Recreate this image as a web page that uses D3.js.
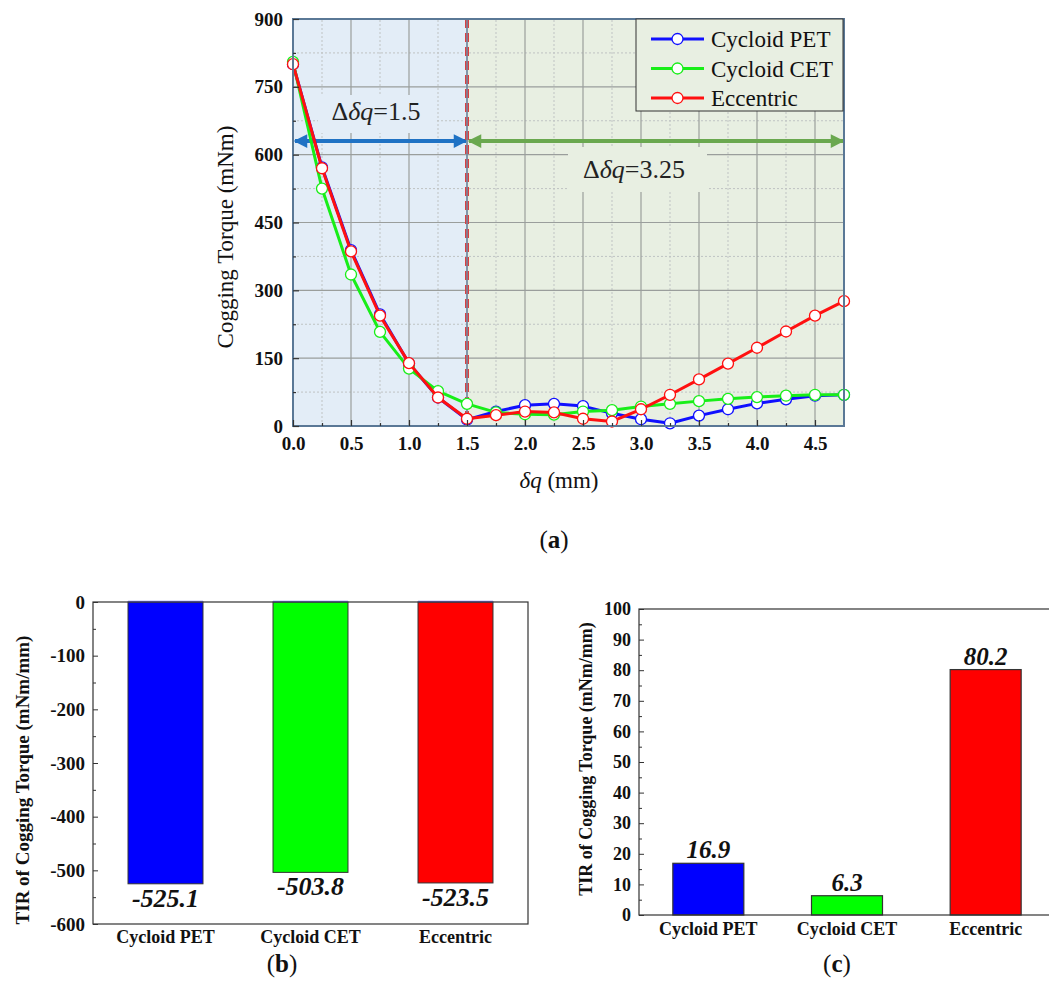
<!DOCTYPE html>
<html><head><meta charset="utf-8">
<script src="https://cdn.jsdelivr.net/npm/d3@7"></script>
<style>body{margin:0;background:#fff} svg{display:block}</style>
</head><body>
<svg id="c" width="1049" height="1005"></svg>
<script>
// ---------- data ----------
const dq = [0,0.25,0.5,0.75,1.0,1.25,1.5,1.75,2.0,2.25,2.5,2.75,3.0,3.25,3.5,3.75,4.0,4.25,4.5,4.75];
const cycloidPET = [800,572,389,247,138,63,14,32,46,49,44,28,15,6,23,37,50,59,67,69];
const cycloidCET = [805,525,335,208,127,77,49,30,26,25,32,35,43,49,55,60,64,67,69,69];
const eccentric  = [800,570,386,244,139,63,16,24,32,30,16,10,37,69,103,138,173,209,244,276];
const seriesNames = ["Cycloid PET","Cycloid CET","Eccentric"];
const seriesColors = ["#1010ff","#18ee18","#ff1010"];
const xTicksA = [0,0.5,1.0,1.5,2.0,2.5,3.0,3.5,4.0,4.5];
const yTicksA = [0,150,300,450,600,750,900];
const splitAt = 1.5;
const arrowLevel = 630;
const leftNote = "1.5", rightNote = "3.25";

const categories = ["Cycloid PET","Cycloid CET","Eccentric"];
const tirNegative = [-525.1,-503.8,-523.5];
const tirPositive = [16.9,6.3,80.2];
const barColors = ["#0000ff","#00ff00","#ff0000"];
const yTicksB = [0,-100,-200,-300,-400,-500,-600];
const yTicksC = [0,10,20,30,40,50,60,70,80,90,100];

// ---------- setup ----------
const svg = d3.select("#c");
const F = "'Liberation Serif','Times New Roman','DejaVu Serif',serif";
const defs = svg.append("defs");
function arrowMarker(id,color){
  const m = defs.append("marker").attr("id",id).attr("viewBox","0 0 10 10")
    .attr("refX",9).attr("refY",5).attr("markerWidth",4).attr("markerHeight",3.4)
    .attr("markerUnits","strokeWidth").attr("orient","auto-start-reverse");
  m.append("path").attr("d","M0,0 L10,5 L0,10 z").attr("fill",color);
}
arrowMarker("arB","#1f72c4");
arrowMarker("arG","#6aa84f");
const plain = v => String(v).replace("\u2212","-");

// ---------- chart (a) ----------
const x = d3.scaleLinear().domain([0,4.75]).range([293,844]);
const y = d3.scaleLinear().domain([0,900]).range([426,19]);
const gA = svg.append("g");
const blueBg = "#e3edf7", greenBg = "#e8efe2";
gA.append("rect").attr("x",x(0)).attr("y",y(900)).attr("width",x(splitAt)-x(0)).attr("height",y(0)-y(900)).attr("fill",blueBg);
gA.append("rect").attr("x",x(splitAt)).attr("y",y(900)).attr("width",x(4.75)-x(splitAt)).attr("height",y(0)-y(900)).attr("fill",greenBg);

const minorX = d3.range(0.25,4.75,0.5), majorX = d3.range(0.5,4.75,0.5);
const minorY = d3.range(75,900,150), majorY = d3.range(150,900,150);
gA.selectAll(".mnx").data(minorX).join("line").attr("x1",d=>x(d)).attr("x2",d=>x(d)).attr("y1",y(0)).attr("y2",y(900))
  .attr("stroke","#bfc3c3").attr("stroke-width",1).attr("stroke-dasharray","2,2");
gA.selectAll(".mny").data(minorY).join("line").attr("x1",x(0)).attr("x2",x(4.75)).attr("y1",d=>y(d)).attr("y2",d=>y(d))
  .attr("stroke","#bfc3c3").attr("stroke-width",1).attr("stroke-dasharray","2,2");
gA.selectAll(".mjx").data(majorX).join("line").attr("x1",d=>x(d)).attr("x2",d=>x(d)).attr("y1",y(0)).attr("y2",y(900))
  .attr("stroke","#9a9e9c").attr("stroke-width",1.2);
gA.selectAll(".mjy").data(majorY).join("line").attr("x1",x(0)).attr("x2",x(4.75)).attr("y1",d=>y(d)).attr("y2",d=>y(d))
  .attr("stroke","#9a9e9c").attr("stroke-width",1.2);

// annotation boxes and texts
gA.append("rect").attr("x",318).attr("y",95).attr("width",118).attr("height",38).attr("fill",blueBg);
gA.append("rect").attr("x",568).attr("y",147).attr("width",139).attr("height",45).attr("fill",greenBg);
function note(xp,yp,val){
  const t = gA.append("text").attr("x",xp).attr("y",yp).attr("font-family",F).attr("font-size",26).attr("fill","#222").attr("text-anchor","middle");
  t.append("tspan").text("Δ");
  t.append("tspan").attr("font-style","italic").text("δq");
  t.append("tspan").text("="+val);
}
note(376,120,leftNote);
note(634,178,rightNote);

// arrows
gA.append("line").attr("x1",x(0)+2).attr("x2",x(splitAt)-1).attr("y1",y(arrowLevel)).attr("y2",y(arrowLevel))
  .attr("stroke","#1f72c4").attr("stroke-width",4).attr("marker-start","url(#arB)").attr("marker-end","url(#arB)");
gA.append("line").attr("x1",x(splitAt)+2).attr("x2",x(4.75)-1).attr("y1",y(arrowLevel)).attr("y2",y(arrowLevel))
  .attr("stroke","#6aa84f").attr("stroke-width",4).attr("marker-start","url(#arG)").attr("marker-end","url(#arG)");

// split line
gA.append("line").attr("x1",x(splitAt)).attr("x2",x(splitAt)).attr("y1",y(900)).attr("y2",y(0))
  .attr("stroke","#d94040").attr("stroke-width",4).attr("stroke-dasharray","9,5");
gA.append("line").attr("x1",x(splitAt)).attr("x2",x(splitAt)).attr("y1",y(900)).attr("y2",y(0))
  .attr("stroke","#6f8aa4").attr("stroke-width",1.5);

// series
const seriesData = [cycloidPET, cycloidCET, eccentric];
const line = d3.line().x(d=>x(d[0])).y(d=>y(d[1]));
seriesData.forEach((vals,i)=>{
  const pts = dq.map((d,j)=>[d,vals[j]]);
  gA.append("path").attr("d",line(pts)).attr("fill","none").attr("stroke",seriesColors[i]).attr("stroke-width",3).attr("stroke-linejoin","round");
  gA.selectAll(".pt"+i).data(pts).join("circle").attr("cx",d=>x(d[0])).attr("cy",d=>y(d[1])).attr("r",5.5)
    .attr("fill","#fff").attr("stroke",seriesColors[i]).attr("stroke-width",1.3);
});

// frame
gA.append("rect").attr("x",x(0)).attr("y",y(900)).attr("width",x(4.75)-x(0)).attr("height",y(0)-y(900))
  .attr("fill","none").attr("stroke","#5a7896").attr("stroke-width",2);

// axes
const axX = gA.append("g").attr("transform",`translate(0,${y(0)})`)
  .call(d3.axisBottom(x).tickValues(xTicksA).tickFormat(d3.format(".1f")).tickSize(-6).tickPadding(11));
const axXm = gA.append("g").attr("transform",`translate(0,${y(0)})`)
  .call(d3.axisBottom(x).tickValues(minorX).tickFormat("").tickSize(-3));
const axY = gA.append("g").attr("transform",`translate(${x(0)},0)`)
  .call(d3.axisLeft(y).tickValues(yTicksA).tickSize(-6).tickPadding(10));
const axYm = gA.append("g").attr("transform",`translate(${x(0)},0)`)
  .call(d3.axisLeft(y).tickValues(minorY).tickFormat("").tickSize(-3));
[axX,axXm,axY,axYm].forEach(a=>{
  a.attr("font-family",F);
  a.select(".domain").remove();
  a.selectAll(".tick line").attr("stroke","#333").attr("stroke-width",1.2);
  a.selectAll("text").attr("font-family",F).attr("font-size",19).attr("font-weight","bold").attr("fill","#111");
});

// legend
const lg = gA.append("g");
lg.append("rect").attr("x",636).attr("y",19).attr("width",207).attr("height",92).attr("fill",greenBg).attr("stroke","#333").attr("stroke-width",1);
seriesNames.forEach((n,i)=>{
  const yy = 39 + i*29.5;
  lg.append("line").attr("x1",651).attr("x2",704).attr("y1",yy).attr("y2",yy).attr("stroke",seriesColors[i]).attr("stroke-width",3);
  lg.append("circle").attr("cx",677.5).attr("cy",yy).attr("r",5.5).attr("fill","#fff").attr("stroke",seriesColors[i]).attr("stroke-width",1.3);
  lg.append("text").attr("x",711).attr("y",yy+8).attr("font-family",F).attr("font-size",23).attr("fill","#111").text(n);
});

// axis titles
const xt = gA.append("text").attr("x",559).attr("y",488).attr("font-family",F).attr("font-size",23).attr("text-anchor","middle").attr("fill","#111");
xt.append("tspan").attr("font-style","italic").text("δq");
xt.append("tspan").text(" (mm)");
gA.append("text").attr("transform",`translate(233,237) rotate(-90)`).attr("text-anchor","middle")
  .attr("font-family",F).attr("font-size",23).attr("fill","#111").text("Cogging Torque (mNm)");

// ---------- chart (b) ----------
const xb = d3.scaleBand().domain(categories).range([93,528]).paddingInner(0.483).paddingOuter(0.2415);
const yb = d3.scaleLinear().domain([-600,0]).range([924,602]);
const gB = svg.append("g");
categories.forEach((c,i)=>{
  gB.append("rect").attr("x",xb(c)).attr("y",yb(0)).attr("width",xb.bandwidth()).attr("height",yb(tirNegative[i])-yb(0))
    .attr("fill",barColors[i]).attr("stroke","#333").attr("stroke-width",1);
  gB.append("line").attr("x1",xb(c)).attr("x2",xb(c)+xb.bandwidth()).attr("y1",yb(0)-0.5).attr("y2",yb(0)-0.5)
    .attr("stroke","#7b7bff").attr("stroke-width",1.5);
  gB.append("text").attr("x",xb(c)+xb.bandwidth()/2).attr("y",yb(tirNegative[i])+23).attr("text-anchor","middle")
    .attr("font-family",F).attr("font-size",26).attr("font-weight","bold").attr("font-style","italic").attr("fill","#111")
    .text(tirNegative[i].toFixed(1));
});
gB.append("rect").attr("x",93).attr("y",602).attr("width",435).attr("height",322).attr("fill","none").attr("stroke","#333").attr("stroke-width",1.2);
const bY = gB.append("g").attr("transform","translate(93,0)").call(d3.axisLeft(yb).tickValues(yTicksB).tickFormat(d=>String(d)).tickSize(-5).tickPadding(8));
const bYm = gB.append("g").attr("transform","translate(93,0)").call(d3.axisLeft(yb).tickValues(d3.range(-550,0,100)).tickFormat("").tickSize(-3));
const bX = gB.append("g").attr("transform","translate(0,924)").call(d3.axisBottom(xb).tickSize(0).tickPadding(6));
[bY,bYm,bX].forEach(a=>{
  a.attr("font-family",F);
  a.select(".domain").remove();
  a.selectAll(".tick line").attr("stroke","#333");
  a.selectAll("text").attr("font-family",F).attr("font-size",19).attr("font-weight","bold").attr("fill","#111");
});
bX.selectAll("text").attr("font-size",18).attr("dy","0").attr("y",19);
gB.append("text").attr("transform","translate(29,780) rotate(-90)").attr("text-anchor","middle")
  .attr("font-family",F).attr("font-size",19).attr("font-weight","bold").attr("fill","#111").text("TIR of Cogging Torque (mNm/mm)");

// ---------- chart (c) ----------
const xc = d3.scaleBand().domain(categories).range([639,1055]).paddingInner(0.488).paddingOuter(0.244);
const yc = d3.scaleLinear().domain([0,100]).range([915,609]);
const gC = svg.append("g");
categories.forEach((c,i)=>{
  gC.append("rect").attr("x",xc(c)).attr("y",yc(tirPositive[i])).attr("width",xc.bandwidth()).attr("height",yc(0)-yc(tirPositive[i]))
    .attr("fill",barColors[i]).attr("stroke","#333").attr("stroke-width",1.2);
  gC.append("text").attr("x",xc(c)+xc.bandwidth()/2).attr("y",yc(tirPositive[i])-5).attr("text-anchor","middle")
    .attr("font-family",F).attr("font-size",25).attr("font-weight","bold").attr("font-style","italic").attr("fill","#111")
    .text(tirPositive[i].toFixed(1));
});
gC.append("rect").attr("x",639).attr("y",609).attr("width",416).attr("height",306).attr("fill","none").attr("stroke","#333").attr("stroke-width",1.2);
const cY = gC.append("g").attr("transform","translate(639,0)").call(d3.axisLeft(yc).tickValues(yTicksC).tickSize(-5).tickPadding(8));
const cYm = gC.append("g").attr("transform","translate(639,0)").call(d3.axisLeft(yc).tickValues(d3.range(5,100,10)).tickFormat("").tickSize(-3));
const cX = gC.append("g").attr("transform","translate(0,915)").call(d3.axisBottom(xc).tickSize(0).tickPadding(6));
[cY,cYm,cX].forEach(a=>{
  a.attr("font-family",F);
  a.select(".domain").remove();
  a.selectAll(".tick line").attr("stroke","#333");
  a.selectAll("text").attr("font-family",F).attr("font-size",18).attr("font-weight","bold").attr("fill","#111");
});
cX.selectAll("text").attr("dy","0").attr("y",20);
gC.append("text").attr("transform","translate(592,759) rotate(-90)").attr("text-anchor","middle")
  .attr("font-family",F).attr("font-size",18).attr("font-weight","bold").attr("fill","#111").text("TIR of Cogging Torque (mNm/mm)");

// ---------- captions ----------
function caption(xp,yp,letter){
  const t = svg.append("text").attr("x",xp).attr("y",yp).attr("text-anchor","middle").attr("font-family",F).attr("font-size",25).attr("fill","#111");
  t.append("tspan").text("(");
  t.append("tspan").attr("font-weight","bold").text(letter);
  t.append("tspan").text(")");
}
caption(554,548,"a");
caption(282,972,"b");
caption(837,972,"c");
</script>
</body></html>
